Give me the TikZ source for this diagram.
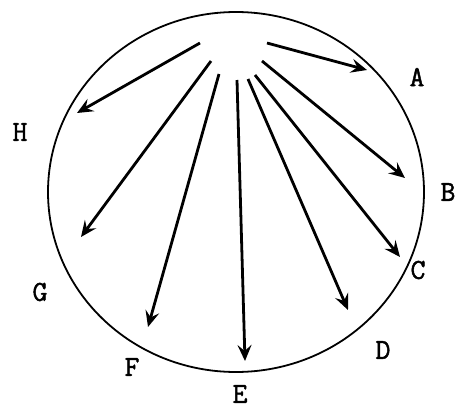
\documentclass[tikz,border=0pt]{standalone}
\usepackage{fontspec}
\newfontfamily\labfont[FakeBold=1.5]{Latin Modern Mono}
\usetikzlibrary{arrows.meta}
\begin{document}
\begin{tikzpicture}[x=1pt,y=-1pt,
  ray/.style={line width=2.8pt,-{Stealth[length=16pt,width=14pt,inset=6pt]}},
  lab/.style={font=\labfont\fontsize{29}{31}\selectfont,inner sep=0pt}]
\fill[white] (0,0) rectangle (459,410);
\useasboundingbox (0,0) rectangle (459,410);
\draw[line width=1.8pt] (236,192) ellipse [x radius=188, y radius=180];
% start points
\coordinate (sA) at (267,43);
\coordinate (sB) at (262,61);
\coordinate (sC) at (255,75);
\coordinate (sD) at (248,79);
\coordinate (sE) at (237,80);
\coordinate (sF) at (219,74);
\coordinate (sG) at (211,61);
\coordinate (sH) at (200,43);
% end points
\coordinate (eA) at (367,70);
\coordinate (eB) at (405,178);
\coordinate (eC) at (400,257);
\coordinate (eD) at (348,310);
\coordinate (eE) at (245,361);
\coordinate (eF) at (148,327);
\coordinate (eG) at (81,237);
\coordinate (eH) at (77,113);
\foreach \n in {A,B,C,D,E,F,G,H} {\draw[ray] (s\n) -- (e\n);}
% labels
\node[lab] (lA) at (417,77) {A};
\node[lab] (lB) at (448,192) {B};
\node[lab] (lC) at (418,270) {C};
\node[lab] (lD) at (383,350) {D};
\node[lab] (lE) at (240,394) {E};
\node[lab] (lF) at (132,367) {F};
\node[lab] (lG) at (40,292) {G};
\node[lab] (lH) at (20,132) {H};
\end{tikzpicture}
\end{document}
